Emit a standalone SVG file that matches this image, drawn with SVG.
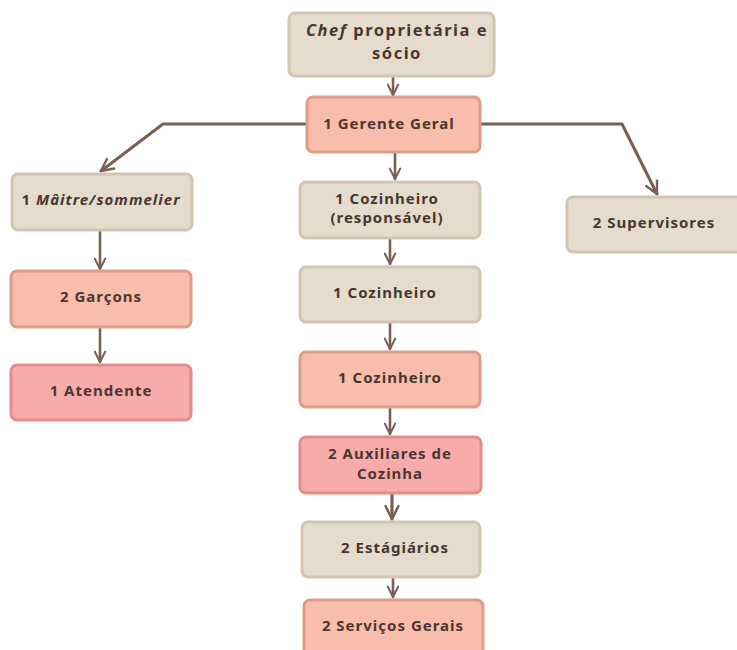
<svg xmlns="http://www.w3.org/2000/svg" width="737" height="650" viewBox="0 0 737 650">
<defs>
<style>
.beige rect{fill:#e5dccd;stroke:#d3c5b1;stroke-width:3}
.salmon rect{fill:#f9bdab;stroke:#de9c8a;stroke-width:3}
.pink rect{fill:#f7acab;stroke:#e38c8c;stroke-width:3}
text{font-family:"Noto Sans","Liberation Sans",sans-serif;font-weight:bold;font-size:15px;fill:#4b3631;text-anchor:middle;letter-spacing:1px}
.big{font-size:16.5px;letter-spacing:1.5px}
.conn path{fill:none;stroke:#7b5f57;stroke-width:2.6;stroke-linecap:round;stroke-linejoin:round}
</style>
<marker id="ah" viewBox="0 0 10 10" refX="9" refY="5" markerWidth="5" markerHeight="5" orient="auto" markerUnits="strokeWidth">
<path d="M1,1 L9,5 L1,9" fill="none" stroke="#7b5f57" stroke-width="1.6" stroke-linecap="round" stroke-linejoin="round"/>
</marker>
</defs>
<rect width="737" height="650" fill="#ffffff"/>
<g class="conn">
<path d="M393,78 L393,95" marker-end="url(#ah)"/>
<path d="M306,124 L163,124 L101,171" marker-end="url(#ah)" style="stroke-width:3"/>
<path d="M481,124 L622,124 L657,194" marker-end="url(#ah)" style="stroke-width:3"/>
<path d="M395,153 L395,179" marker-end="url(#ah)"/>
<path d="M100,231 L100,269" marker-end="url(#ah)"/>
<path d="M100,328 L100,362" marker-end="url(#ah)"/>
<path d="M390,239 L390,264" marker-end="url(#ah)"/>
<path d="M390,323 L390,349" marker-end="url(#ah)"/>
<path d="M390,408 L390,434" marker-end="url(#ah)"/>
<path d="M392,494 L392,519" marker-end="url(#ah)" style="stroke-width:3.2"/>
<path d="M393,578 L393,597" marker-end="url(#ah)"/>
</g>
<g id="chef" class="beige"><rect x="289" y="13" width="205" height="63" rx="6"/><text class="big" x="397" y="36"><tspan font-style="italic">Chef</tspan> proprietária e</text><text class="big" x="397" y="59">sócio</text></g>
<g id="gerente" class="salmon"><rect x="307" y="97" width="173" height="55" rx="6"/><text x="389" y="129">1 Gerente Geral</text></g>
<g id="maitre" class="beige"><rect x="12" y="174" width="180" height="56" rx="6"/><text x="101" y="205">1 <tspan font-style="italic">Mâitre/sommelier</tspan></text></g>
<g id="supervisores" class="beige"><rect x="567" y="197" width="180" height="55" rx="6"/><text x="654" y="228">2 Supervisores</text></g>
<g id="garcons" class="salmon"><rect x="11" y="271" width="180" height="56" rx="6"/><text x="101" y="302">2 Garçons</text></g>
<g id="atendente" class="pink"><rect x="11" y="365" width="180" height="55" rx="6"/><text x="101" y="396">1 Atendente</text></g>
<g id="cozresp" class="beige"><rect x="300" y="182" width="180" height="56" rx="6"/><text x="387" y="204">1 Cozinheiro</text><text x="387" y="223">(responsável)</text></g>
<g id="coz1" class="beige"><rect x="300" y="267" width="180" height="55" rx="6"/><text x="385" y="298">1 Cozinheiro</text></g>
<g id="coz2" class="salmon"><rect x="300" y="352" width="180" height="55" rx="6"/><text x="390" y="383">1 Cozinheiro</text></g>
<g id="auxiliares" class="pink"><rect x="300" y="437" width="181" height="56" rx="6"/><text x="390" y="459">2 Auxiliares de</text><text x="390" y="479">Cozinha</text></g>
<g id="estagiarios" class="beige"><rect x="302" y="522" width="178" height="55" rx="6"/><text x="395" y="553">2 Estágiários</text></g>
<g id="servicos" class="salmon"><rect x="304" y="600" width="179" height="56" rx="6"/><text x="393" y="631">2 Serviços Gerais</text></g>
</svg>
